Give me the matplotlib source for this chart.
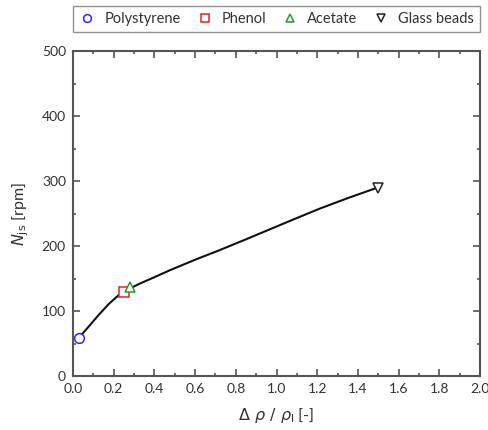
import matplotlib
matplotlib.use('Agg')
import matplotlib.pyplot as plt
from matplotlib.ticker import MultipleLocator

plt.rcParams['font.family'] = ['Lato', 'DejaVu Sans']
plt.rcParams['mathtext.fontset'] = 'dejavusans'

# Measured particles: density difference ratio vs just-suspended speed
labels = ['Polystyrene', 'Phenol', 'Acetate', 'Glass beads']
drho = [0.03, 0.25, 0.28, 1.5]
njs = [59, 130, 137, 290]
markers = ['o', 's', '^', 'v']
colors = ['#2b2bdc', '#e82020', '#2a9a2a', '#222222']

# Correlation curve through the data
curve_x = [0.031, 0.077, 0.126, 0.176, 0.225, 0.257, 0.323, 0.405, 0.477,
           0.60, 0.722, 0.85, 0.968, 1.09, 1.214, 1.35, 1.49]
curve_y = [59.5, 75.8, 93.8, 110.8, 124.6, 130.8, 141.5, 152.8, 163,
           179, 194, 210.5, 226, 242, 258, 274, 289.5]

fig = plt.figure(figsize=(4.89, 4.30), dpi=100)
ax = fig.add_axes([0.149, 0.1256, 0.833, 0.755])

ax.plot(curve_x, curve_y, color='#111111', lw=1.5, zorder=2,
        solid_joinstyle='round')
for x, y, m, c, lab in zip(drho, njs, markers, colors, labels):
    ax.plot(x, y, linestyle='none', marker=m, markersize=7, mfc='white',
            mec=c, mew=1.1, label=lab, zorder=3)

ax.set_xlim(0, 2.0)
ax.set_ylim(0, 500)
ax.xaxis.set_major_locator(MultipleLocator(0.2))
ax.xaxis.set_minor_locator(MultipleLocator(0.1))
ax.yaxis.set_major_locator(MultipleLocator(100))
ax.yaxis.set_minor_locator(MultipleLocator(50))
ax.xaxis.set_major_formatter(plt.FuncFormatter(lambda v, p: f'{v:.1f}'))

for s in ax.spines.values():
    s.set_color('#555555')
    s.set_linewidth(1.5)
ax.tick_params(which='both', direction='in', top=True, right=True,
               colors='#555555', labelcolor='#333333', labelsize=10)
ax.tick_params(which='major', length=5, width=1.2, pad=5)
ax.tick_params(which='minor', length=2.5, width=1.2)

ax.set_xlabel(r'$\Delta\ \rho\ /\ \rho_{\rm l}$ [-]', fontsize=11.5,
              color='#333333', labelpad=8)
ax.set_ylabel(r'$N_{\rm js}$ [rpm]', fontsize=11.5, color='#333333', labelpad=8)

leg = ax.legend(loc='lower left', bbox_to_anchor=(0, 1.06, 1, 0.08),
                mode='expand', ncol=4, frameon=True, fancybox=False,
                fontsize=10.5, handletextpad=0.6, columnspacing=0.8,
                borderpad=0.4, handlelength=1.2, borderaxespad=0,
                markerscale=0.8)
leg.get_frame().set_edgecolor('#777777')
leg.get_frame().set_linewidth(1.0)
for t in leg.get_texts():
    t.set_color('#333333')

fig.savefig('out.png', dpi=100)
